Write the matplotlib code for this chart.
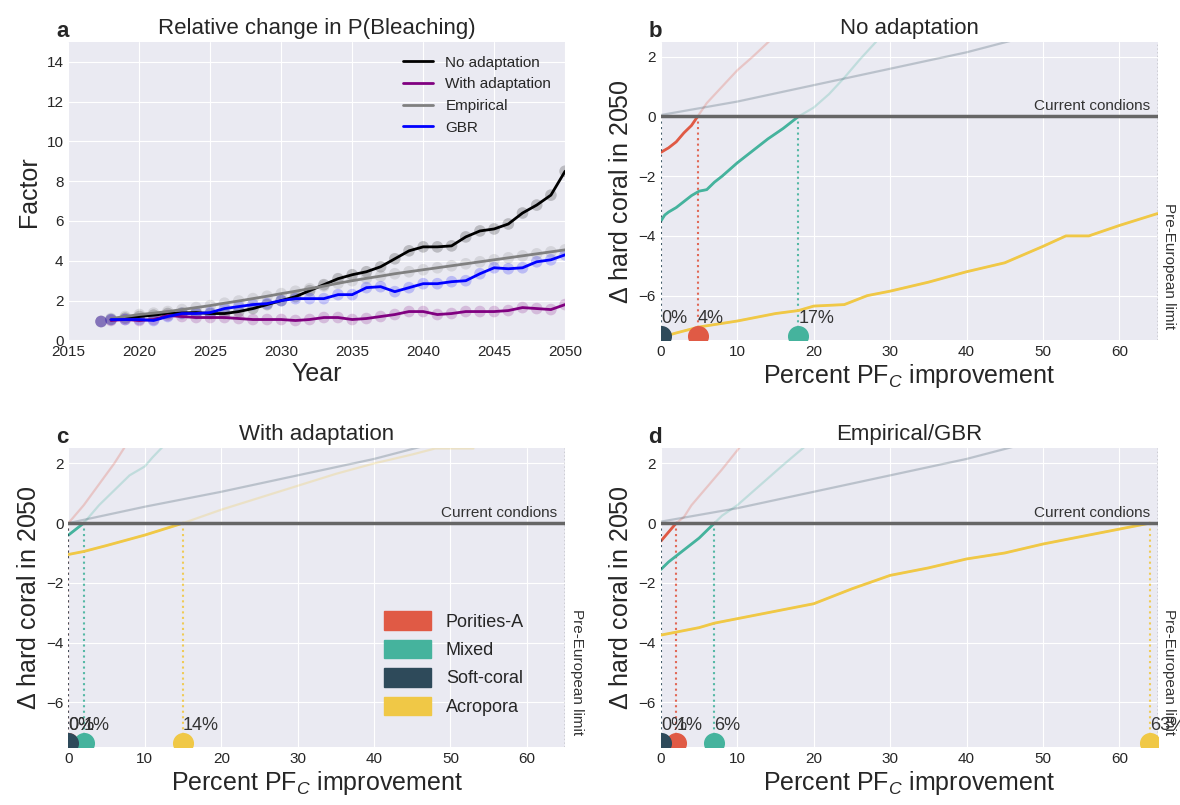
import numpy as np
import matplotlib
matplotlib.use('Agg')
import matplotlib.pyplot as plt
from matplotlib.patches import Patch

plt.style.use('seaborn-v0_8-darkgrid')
plt.rcParams['font.family'] = ['Liberation Sans', 'DejaVu Sans']
plt.rcParams['mathtext.fontset'] = 'custom'
plt.rcParams['mathtext.rm'] = 'Liberation Sans'
plt.rcParams['mathtext.it'] = 'Liberation Sans:italic'

# ---- panel a data ----
years = list(range(2018, 2051))
no_adapt = [1.05, 1.12, 1.2, 1.27, 1.35, 1.38, 1.4, 1.35, 1.35, 1.45, 1.6, 1.8, 2.0, 2.2,
            2.5, 2.8, 3.1, 3.3, 3.45, 3.7, 4.1, 4.5, 4.7, 4.7, 4.75, 5.2, 5.5, 5.6, 5.85,
            6.4, 6.8, 7.3, 8.5]
with_adapt = [1.0, 1.05, 1.0, 1.05, 1.25, 1.2, 1.15, 1.15, 1.15, 1.1, 1.05, 1.05, 1.05, 1.0,
              1.05, 1.15, 1.15, 1.05, 1.1, 1.2, 1.3, 1.45, 1.45, 1.3, 1.35, 1.45, 1.45, 1.45,
              1.5, 1.65, 1.6, 1.55, 1.8]
empirical = [1.1, 1.2, 1.3, 1.37, 1.45, 1.55, 1.65, 1.75, 1.87, 1.98, 2.1, 2.22, 2.35, 2.47,
             2.6, 2.73, 2.87, 3.0, 3.12, 3.23, 3.35, 3.45, 3.55, 3.65, 3.75, 3.85, 3.95, 4.05,
             4.15, 4.25, 4.35, 4.45, 4.55]
gbr = [1.05, 1.05, 1.05, 1.0, 1.2, 1.35, 1.35, 1.4, 1.6, 1.7, 1.8, 1.85, 2.0, 2.1,
       2.1, 2.1, 2.3, 2.3, 2.65, 2.7, 2.45, 2.65, 2.85, 2.85, 2.95, 3.0, 3.35, 3.65, 3.6,
       3.65, 3.95, 4.05, 4.3]
start_year = 2017.3
start_value = 0.95

series_a = [('No adaptation', no_adapt, 'black'),
            ('With adaptation', with_adapt, 'purple'),
            ('Empirical', empirical, 'grey'),
            ('GBR', gbr, 'blue')]

# ---- panels b-d data ----
names = ['Porities-A', 'Mixed', 'Soft-coral', 'Acropora']
colors = ['#e05a45', '#45b39d', '#2e4a5a', '#f0c846']

# No adaptation
b_red_x = [0, 1, 2, 3, 4, 4.8, 6, 8, 10, 12, 14.5]
b_red_y = [-1.2, -1.05, -0.85, -0.55, -0.3, 0, 0.45, 1.0, 1.55, 2.0, 2.6]
b_teal_x = [0, 0.5, 1, 2, 3, 4, 5, 6, 7, 8, 10, 12, 14, 16, 17, 18, 20, 22, 24, 26, 28.5]
b_teal_y = [-3.5, -3.3, -3.2, -3.05, -2.85, -2.65, -2.5, -2.45, -2.2, -2.0, -1.55, -1.15,
            -0.75, -0.4, -0.2, 0, 0.3, 0.75, 1.3, 1.9, 2.6]
b_soft_x = [0, 10, 20, 30, 40, 46]
b_soft_y = [0.05, 0.5, 1.05, 1.6, 2.15, 2.55]
b_yell_x = [0, 2, 5, 10, 15, 18, 20, 24, 27, 30, 35, 40, 45, 50, 53, 56, 60, 65]
b_yell_y = [-7.4, -7.25, -7.05, -6.85, -6.6, -6.5, -6.35, -6.3, -6.0, -5.85, -5.55, -5.2,
            -4.9, -4.35, -4.0, -4.0, -3.65, -3.25]
b_cross = [4.8, 18, 0, None]
b_labels = ['4%', '17%', '0%', None]

# With adaptation
c_red_x = [0, 2, 4, 6, 7.5]
c_red_y = [0, 0.6, 1.3, 2.0, 2.6]
c_teal_x = [0, 1, 2, 4, 6, 8, 10, 11, 12.5]
c_teal_y = [-0.4, -0.2, 0, 0.6, 1.1, 1.6, 1.9, 2.2, 2.6]
c_soft_x = [0, 10, 20, 30, 40, 46]
c_soft_y = [0.0, 0.55, 1.05, 1.6, 2.15, 2.55]
c_yell_x = [0, 2, 5, 10, 15, 20, 25, 30, 35, 40, 45, 48, 53]
c_yell_y = [-1.05, -0.95, -0.75, -0.4, 0, 0.45, 0.85, 1.25, 1.65, 2.0, 2.3, 2.5, 2.5]
c_cross = [0, 2, 0, 15]
c_labels = ['0%', '1%', '0%', '14%']

# Empirical/GBR
d_red_x = [0, 1, 2, 3, 4, 6, 8, 10.5]
d_red_y = [-0.6, -0.3, 0, 0.2, 0.6, 1.2, 1.8, 2.6]
d_teal_x = [0, 1, 2, 3, 4, 5, 6, 7, 8, 10, 12, 14, 16, 19]
d_teal_y = [-1.55, -1.3, -1.1, -0.9, -0.7, -0.5, -0.25, 0, 0.25, 0.6, 1.05, 1.5, 1.95, 2.6]
d_soft_x = [0, 10, 20, 30, 40, 46]
d_soft_y = [0.05, 0.5, 1.05, 1.6, 2.15, 2.55]
d_yell_x = [0, 2, 5, 7, 10, 15, 20, 25, 30, 35, 40, 45, 50, 55, 60, 64]
d_yell_y = [-3.75, -3.65, -3.5, -3.35, -3.2, -2.95, -2.7, -2.2, -1.75, -1.5, -1.2, -1.0,
            -0.7, -0.45, -0.2, 0]
d_cross = [2, 7, 0, 64]
d_labels = ['1%', '6%', '0%', '63%']

panels = [
    ('No adaptation', 'b', [(b_red_x, b_red_y), (b_teal_x, b_teal_y), (b_soft_x, b_soft_y), (b_yell_x, b_yell_y)], b_cross, b_labels),
    ('With adaptation', 'c', [(c_red_x, c_red_y), (c_teal_x, c_teal_y), (c_soft_x, c_soft_y), (c_yell_x, c_yell_y)], c_cross, c_labels),
    ('Empirical/GBR', 'd', [(d_red_x, d_red_y), (d_teal_x, d_teal_y), (d_soft_x, d_soft_y), (d_yell_x, d_yell_y)], d_cross, d_labels),
]

fig, axes = plt.subplots(2, 2, figsize=(11.8, 8.05), dpi=100)
plt.subplots_adjust(left=0.058, right=0.981, top=0.948, bottom=0.072, wspace=0.193, hspace=0.362)

tick_fs = 11
label_fs = 18
title_fs = 16

# panel a
ax = axes[0, 0]
for name, vals, col in series_a:
    ax.scatter([start_year] + years, [start_value] + vals, s=70, color=col, alpha=0.2,
               edgecolors='none')
    ax.plot(years, vals, color=col, lw=2, label=name)
ax.set_xlim(2015, 2050)
ax.set_ylim(0, 15)
ax.set_yticks(range(0, 15, 2))
ax.set_xlabel('Year', fontsize=label_fs, labelpad=2)
ax.set_ylabel('Factor', fontsize=label_fs)
ax.set_title('Relative change in P(Bleaching)', fontsize=title_fs)
ax.tick_params(labelsize=tick_fs)
ax.legend(loc='upper right', fontsize=11, frameon=False)
ax.text(-0.025, 1.0, 'a', transform=ax.transAxes, fontsize=16, fontweight='bold', va='bottom')

# panels b-d
for ax, (title, letter, curves, cross, labels) in zip([axes[0, 1], axes[1, 0], axes[1, 1]], panels):
    for (cx, cy), col, xc, lab in zip(curves, colors, cross, labels):
        cx = np.array(cx)
        cy = np.array(cy)
        ax.plot(cx, cy, color=col, lw=1.6, alpha=0.25)
        below = cy <= 0
        if below.sum() > 1:
            ax.plot(cx[below], cy[below], color=col, lw=2)
        if xc is not None:
            ax.plot([xc, xc], [0, -7.5], color=col, lw=1.5, ls=':', alpha=0.9)
            ax.scatter([xc], [-7.35], s=200, color=col, zorder=5)
            ax.text(xc, -7.05, lab, fontsize=13, color='#333333', va='bottom', ha='left')
    ax.axhline(0, color='#666666', lw=2.5)
    ax.axvline(65, color='#555555', lw=1, ls=':')
    ax.text(64, 0.12, 'Current condions', fontsize=11, color='#333333', ha='right', va='bottom')
    ax.text(65.6, -5, 'Pre-European limit', fontsize=11, color='#333333', rotation=270,
            ha='left', va='center')
    ax.set_xlim(0, 65)
    ax.set_ylim(-7.5, 2.5)
    ax.set_xticks(range(0, 61, 10))
    ax.set_yticks([-6, -4, -2, 0, 2])
    ax.set_xlabel(r'Percent PF$_C$ improvement', fontsize=label_fs, labelpad=2)
    ax.set_ylabel(r'$\Delta$ hard coral in 2050', fontsize=label_fs)
    ax.set_title(title, fontsize=title_fs)
    ax.tick_params(labelsize=tick_fs)
    ax.text(-0.025, 1.0, letter, transform=ax.transAxes, fontsize=16, fontweight='bold', va='bottom')

handles = [Patch(color=c, label=n) for n, c in zip(names, colors)]
axes[1, 0].legend(handles=handles, loc='lower right', bbox_to_anchor=(0.95, 0.05), fontsize=13,
                  frameon=False, handlelength=2.6, handleheight=1.2, labelspacing=0.5)

plt.savefig('out.png', dpi=100)
